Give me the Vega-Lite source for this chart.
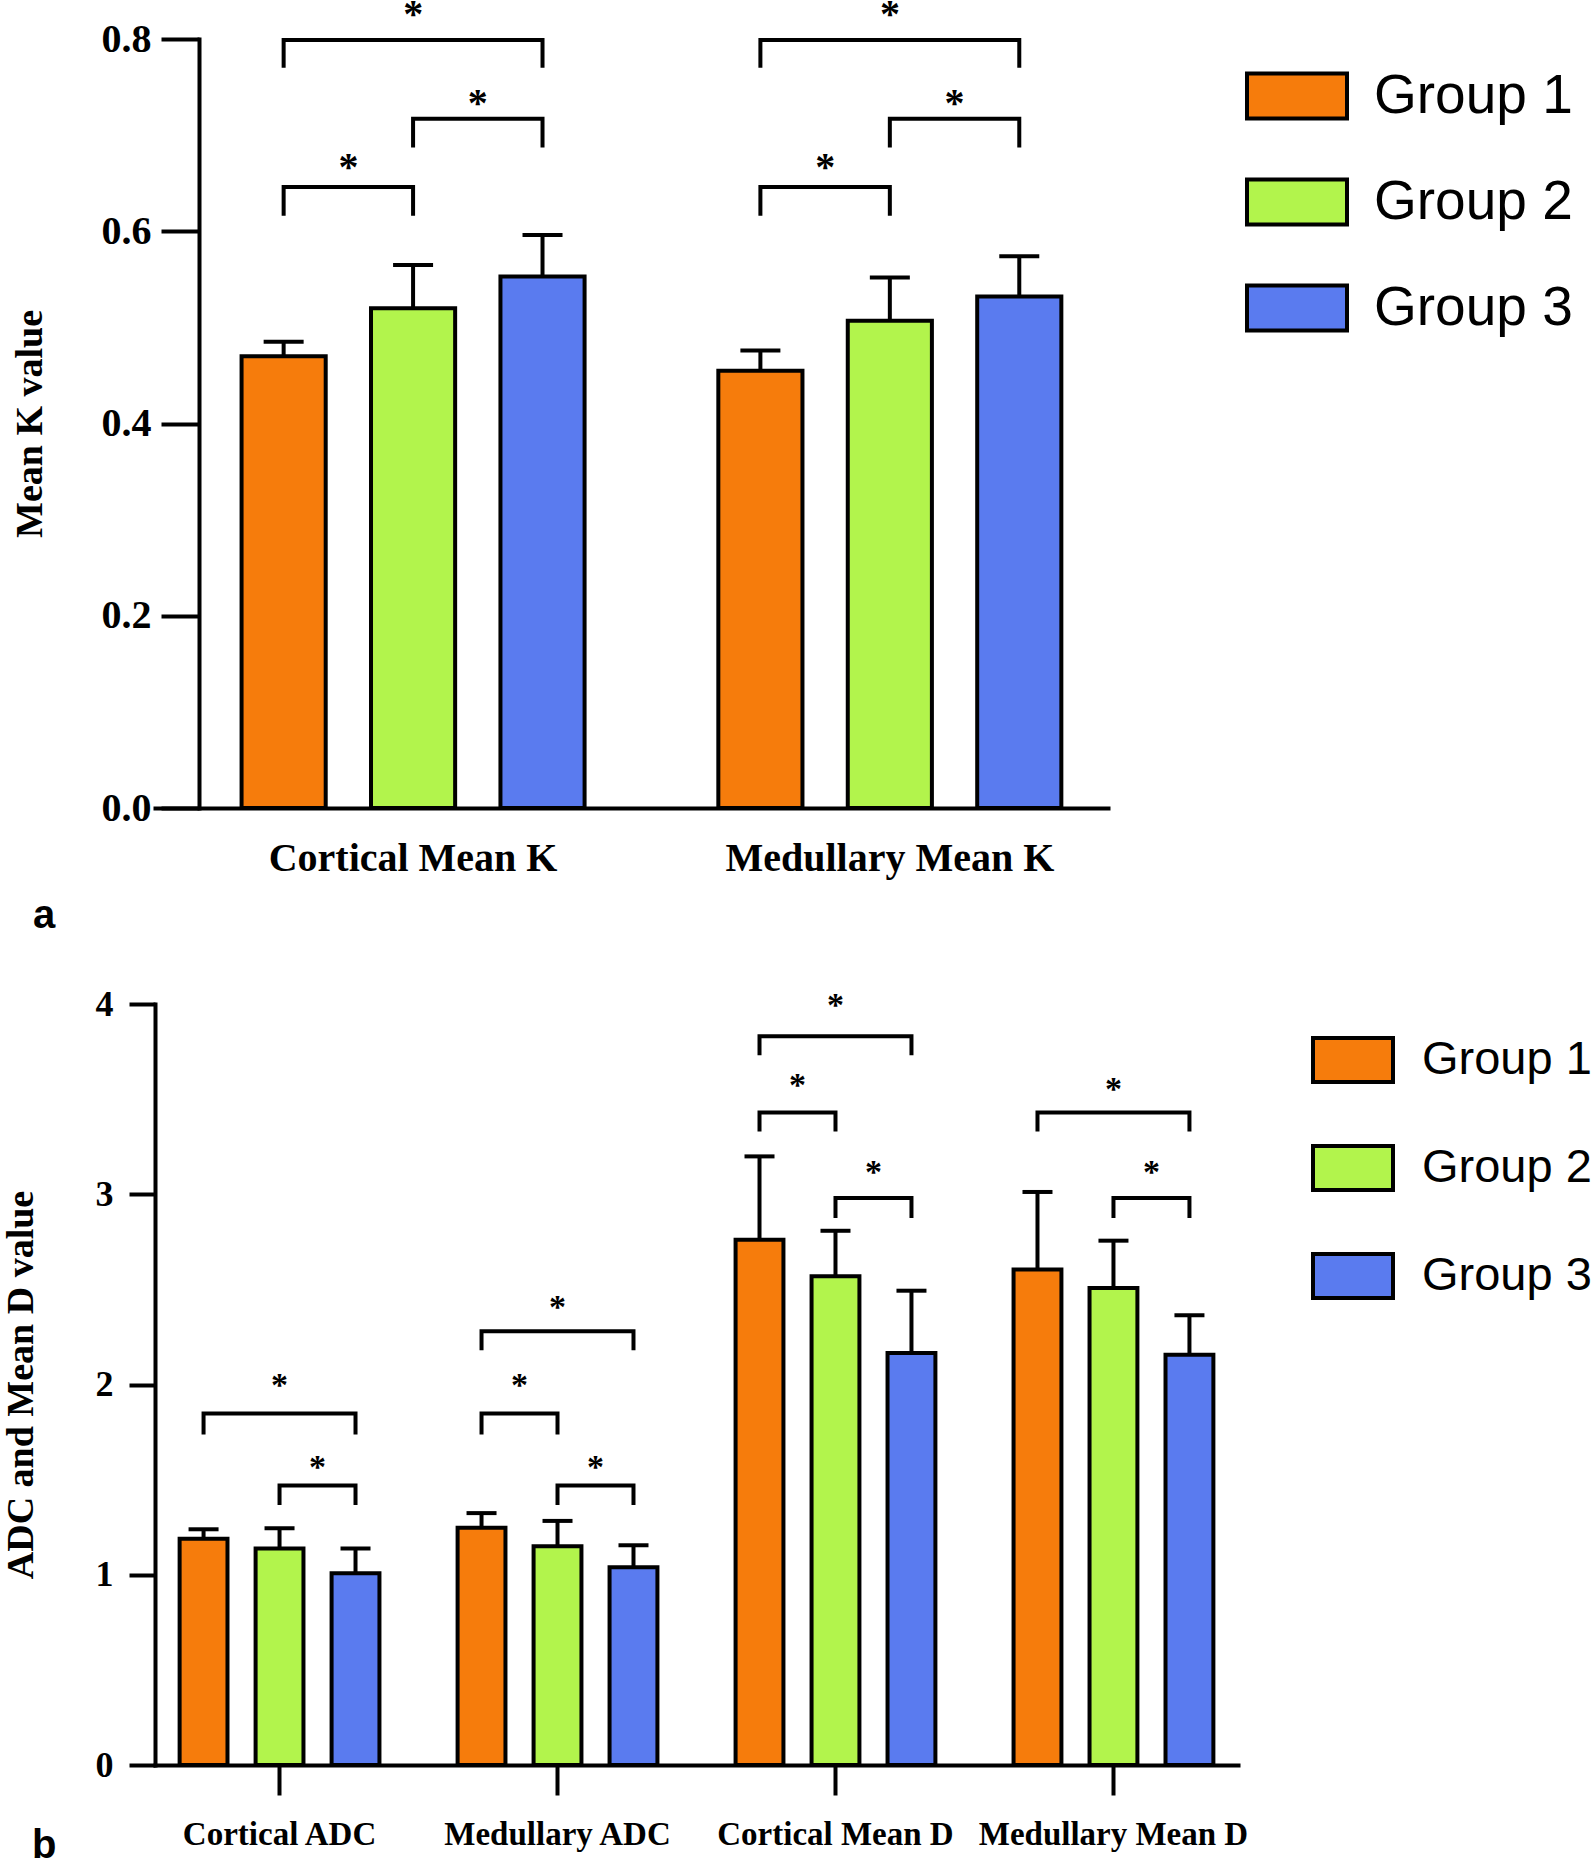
{
  "$schema": "https://vega.github.io/schema/vega-lite/v6.json",
  "background": "white",
  "padding": {"left": 2, "top": -5, "right": 0, "bottom": 0},
  "config": {
    "view": {"stroke": null},
    "font": "Liberation Serif",
    "axis": {"domainColor": "black", "tickColor": "black", "labelColor": "black", "titleColor": "black", "grid": false, "domainWidth": 4, "tickWidth": 4, "labelFont": "Liberation Serif", "labelFontWeight": "bold", "titleFont": "Liberation Serif", "titleFontWeight": "bold", "domainCap": "square", "labelLimit": 500}
  },
  "resolve": {"scale": {"color": "independent", "xOffset": "independent"}, "legend": {"color": "independent"}},
  "datasets": {
    "barsA": [
      {"cat": "Cortical Mean K", "group": "Group 1", "mean": 0.470, "upper": 0.485},
      {"cat": "Cortical Mean K", "group": "Group 2", "mean": 0.520, "upper": 0.565},
      {"cat": "Cortical Mean K", "group": "Group 3", "mean": 0.553, "upper": 0.596},
      {"cat": "Medullary Mean K", "group": "Group 1", "mean": 0.455, "upper": 0.476},
      {"cat": "Medullary Mean K", "group": "Group 2", "mean": 0.507, "upper": 0.552},
      {"cat": "Medullary Mean K", "group": "Group 3", "mean": 0.532, "upper": 0.574}
    ],
    "bracketsA": [
      {"id": "C13", "cat": "Cortical Mean K", "group": "Group 1", "y": 0.770, "k": 1},
      {"id": "C13", "cat": "Cortical Mean K", "group": "Group 1", "y": 0.799, "k": 2},
      {"id": "C13", "cat": "Cortical Mean K", "group": "Group 3", "y": 0.799, "k": 3},
      {"id": "C13", "cat": "Cortical Mean K", "group": "Group 3", "y": 0.770, "k": 4},
      {"id": "C12", "cat": "Cortical Mean K", "group": "Group 1", "y": 0.616, "k": 1},
      {"id": "C12", "cat": "Cortical Mean K", "group": "Group 1", "y": 0.646, "k": 2},
      {"id": "C12", "cat": "Cortical Mean K", "group": "Group 2", "y": 0.646, "k": 3},
      {"id": "C12", "cat": "Cortical Mean K", "group": "Group 2", "y": 0.616, "k": 4},
      {"id": "C23", "cat": "Cortical Mean K", "group": "Group 2", "y": 0.687, "k": 1},
      {"id": "C23", "cat": "Cortical Mean K", "group": "Group 2", "y": 0.717, "k": 2},
      {"id": "C23", "cat": "Cortical Mean K", "group": "Group 3", "y": 0.717, "k": 3},
      {"id": "C23", "cat": "Cortical Mean K", "group": "Group 3", "y": 0.687, "k": 4},
      {"id": "M13", "cat": "Medullary Mean K", "group": "Group 1", "y": 0.770, "k": 1},
      {"id": "M13", "cat": "Medullary Mean K", "group": "Group 1", "y": 0.799, "k": 2},
      {"id": "M13", "cat": "Medullary Mean K", "group": "Group 3", "y": 0.799, "k": 3},
      {"id": "M13", "cat": "Medullary Mean K", "group": "Group 3", "y": 0.770, "k": 4},
      {"id": "M12", "cat": "Medullary Mean K", "group": "Group 1", "y": 0.616, "k": 1},
      {"id": "M12", "cat": "Medullary Mean K", "group": "Group 1", "y": 0.646, "k": 2},
      {"id": "M12", "cat": "Medullary Mean K", "group": "Group 2", "y": 0.646, "k": 3},
      {"id": "M12", "cat": "Medullary Mean K", "group": "Group 2", "y": 0.616, "k": 4},
      {"id": "M23", "cat": "Medullary Mean K", "group": "Group 2", "y": 0.687, "k": 1},
      {"id": "M23", "cat": "Medullary Mean K", "group": "Group 2", "y": 0.717, "k": 2},
      {"id": "M23", "cat": "Medullary Mean K", "group": "Group 3", "y": 0.717, "k": 3},
      {"id": "M23", "cat": "Medullary Mean K", "group": "Group 3", "y": 0.687, "k": 4}
    ],
    "starsA": [
      {"cat": "Cortical Mean K", "from": "Group 1", "to": "Group 3", "y": 0.832},
      {"cat": "Cortical Mean K", "from": "Group 1", "to": "Group 2", "y": 0.673},
      {"cat": "Cortical Mean K", "from": "Group 2", "to": "Group 3", "y": 0.740},
      {"cat": "Medullary Mean K", "from": "Group 1", "to": "Group 3", "y": 0.832},
      {"cat": "Medullary Mean K", "from": "Group 1", "to": "Group 2", "y": 0.673},
      {"cat": "Medullary Mean K", "from": "Group 2", "to": "Group 3", "y": 0.740}
    ],
    "barsB": [
      {"cat": "Cortical ADC", "group": "Group 1", "mean": 1.189, "upper": 1.239},
      {"cat": "Cortical ADC", "group": "Group 2", "mean": 1.138, "upper": 1.244},
      {"cat": "Cortical ADC", "group": "Group 3", "mean": 1.008, "upper": 1.138},
      {"cat": "Medullary ADC", "group": "Group 1", "mean": 1.247, "upper": 1.324},
      {"cat": "Medullary ADC", "group": "Group 2", "mean": 1.150, "upper": 1.283},
      {"cat": "Medullary ADC", "group": "Group 3", "mean": 1.040, "upper": 1.155},
      {"cat": "Cortical Mean D", "group": "Group 1", "mean": 2.761, "upper": 3.199},
      {"cat": "Cortical Mean D", "group": "Group 2", "mean": 2.569, "upper": 2.808},
      {"cat": "Cortical Mean D", "group": "Group 3", "mean": 2.166, "upper": 2.493},
      {"cat": "Medullary Mean D", "group": "Group 1", "mean": 2.604, "upper": 3.012},
      {"cat": "Medullary Mean D", "group": "Group 2", "mean": 2.507, "upper": 2.756},
      {"cat": "Medullary Mean D", "group": "Group 3", "mean": 2.157, "upper": 2.364}
    ],
    "bracketsB": [
      {"id": "CA13", "cat": "Cortical ADC", "group": "Group 1", "y": 1.737, "k": 1},
      {"id": "CA13", "cat": "Cortical ADC", "group": "Group 1", "y": 1.848, "k": 2},
      {"id": "CA13", "cat": "Cortical ADC", "group": "Group 3", "y": 1.848, "k": 3},
      {"id": "CA13", "cat": "Cortical ADC", "group": "Group 3", "y": 1.737, "k": 4},
      {"id": "CA23", "cat": "Cortical ADC", "group": "Group 2", "y": 1.366, "k": 1},
      {"id": "CA23", "cat": "Cortical ADC", "group": "Group 2", "y": 1.469, "k": 2},
      {"id": "CA23", "cat": "Cortical ADC", "group": "Group 3", "y": 1.469, "k": 3},
      {"id": "CA23", "cat": "Cortical ADC", "group": "Group 3", "y": 1.366, "k": 4},
      {"id": "MA13", "cat": "Medullary ADC", "group": "Group 1", "y": 2.18, "k": 1},
      {"id": "MA13", "cat": "Medullary ADC", "group": "Group 1", "y": 2.28, "k": 2},
      {"id": "MA13", "cat": "Medullary ADC", "group": "Group 3", "y": 2.28, "k": 3},
      {"id": "MA13", "cat": "Medullary ADC", "group": "Group 3", "y": 2.18, "k": 4},
      {"id": "MA12", "cat": "Medullary ADC", "group": "Group 1", "y": 1.737, "k": 1},
      {"id": "MA12", "cat": "Medullary ADC", "group": "Group 1", "y": 1.848, "k": 2},
      {"id": "MA12", "cat": "Medullary ADC", "group": "Group 2", "y": 1.848, "k": 3},
      {"id": "MA12", "cat": "Medullary ADC", "group": "Group 2", "y": 1.737, "k": 4},
      {"id": "MA23", "cat": "Medullary ADC", "group": "Group 2", "y": 1.366, "k": 1},
      {"id": "MA23", "cat": "Medullary ADC", "group": "Group 2", "y": 1.469, "k": 2},
      {"id": "MA23", "cat": "Medullary ADC", "group": "Group 3", "y": 1.469, "k": 3},
      {"id": "MA23", "cat": "Medullary ADC", "group": "Group 3", "y": 1.366, "k": 4},
      {"id": "CD13", "cat": "Cortical Mean D", "group": "Group 1", "y": 3.73, "k": 1},
      {"id": "CD13", "cat": "Cortical Mean D", "group": "Group 1", "y": 3.83, "k": 2},
      {"id": "CD13", "cat": "Cortical Mean D", "group": "Group 3", "y": 3.83, "k": 3},
      {"id": "CD13", "cat": "Cortical Mean D", "group": "Group 3", "y": 3.73, "k": 4},
      {"id": "CD12", "cat": "Cortical Mean D", "group": "Group 1", "y": 3.33, "k": 1},
      {"id": "CD12", "cat": "Cortical Mean D", "group": "Group 1", "y": 3.43, "k": 2},
      {"id": "CD12", "cat": "Cortical Mean D", "group": "Group 2", "y": 3.43, "k": 3},
      {"id": "CD12", "cat": "Cortical Mean D", "group": "Group 2", "y": 3.33, "k": 4},
      {"id": "CD23", "cat": "Cortical Mean D", "group": "Group 2", "y": 2.875, "k": 1},
      {"id": "CD23", "cat": "Cortical Mean D", "group": "Group 2", "y": 2.98, "k": 2},
      {"id": "CD23", "cat": "Cortical Mean D", "group": "Group 3", "y": 2.98, "k": 3},
      {"id": "CD23", "cat": "Cortical Mean D", "group": "Group 3", "y": 2.875, "k": 4},
      {"id": "MD13", "cat": "Medullary Mean D", "group": "Group 1", "y": 3.33, "k": 1},
      {"id": "MD13", "cat": "Medullary Mean D", "group": "Group 1", "y": 3.43, "k": 2},
      {"id": "MD13", "cat": "Medullary Mean D", "group": "Group 3", "y": 3.43, "k": 3},
      {"id": "MD13", "cat": "Medullary Mean D", "group": "Group 3", "y": 3.33, "k": 4},
      {"id": "MD23", "cat": "Medullary Mean D", "group": "Group 2", "y": 2.875, "k": 1},
      {"id": "MD23", "cat": "Medullary Mean D", "group": "Group 2", "y": 2.98, "k": 2},
      {"id": "MD23", "cat": "Medullary Mean D", "group": "Group 3", "y": 2.98, "k": 3},
      {"id": "MD23", "cat": "Medullary Mean D", "group": "Group 3", "y": 2.875, "k": 4}
    ],
    "starsB": [
      {"cat": "Cortical ADC", "from": "Group 1", "to": "Group 3", "y": 2.02},
      {"cat": "Cortical ADC", "from": "Group 2", "to": "Group 3", "y": 1.587},
      {"cat": "Medullary ADC", "from": "Group 1", "to": "Group 3", "y": 2.43},
      {"cat": "Medullary ADC", "from": "Group 1", "to": "Group 2", "y": 2.02},
      {"cat": "Medullary ADC", "from": "Group 2", "to": "Group 3", "y": 1.587},
      {"cat": "Cortical Mean D", "from": "Group 1", "to": "Group 3", "y": 4.015},
      {"cat": "Cortical Mean D", "from": "Group 1", "to": "Group 2", "y": 3.595},
      {"cat": "Cortical Mean D", "from": "Group 2", "to": "Group 3", "y": 3.14},
      {"cat": "Medullary Mean D", "from": "Group 1", "to": "Group 3", "y": 3.576},
      {"cat": "Medullary Mean D", "from": "Group 2", "to": "Group 3", "y": 3.14}
    ]
  },
  "columns": 1,
  "align": "none",
  "spacing": 50,
  "concat": [
    {
      "width": 953,
      "height": 769,
      "title": {"text": "a", "orient": "bottom", "anchor": "start", "frame": "bounds", "font": "Liberation Sans", "fontSize": 40, "fontWeight": "bold", "color": "black", "dx": 22, "offset": 18},
      "layer": [
        {
          "data": {"name": "barsA"},
          "mark": {"type": "bar", "stroke": "black", "strokeWidth": 4, "opacity": 1},
          "encoding": {
            "x": {"field": "cat", "type": "nominal", "sort": ["Cortical Mean K", "Medullary Mean K"], "title": null,
                  "scale": {"type": "band", "paddingInner": 0.1855, "paddingOuter": 0.0922, "align": 0.727},
                  "axis": {"labelAngle": 0, "ticks": false, "labelPadding": 30, "labelFontSize": 40}},
            "xOffset": {"field": "group", "type": "nominal", "scale": {"type": "band", "paddingInner": 0.35, "paddingOuter": 0.175}},
            "y": {"field": "mean", "type": "quantitative", "title": "Mean K value", "scale": {"domain": [0, 0.8], "nice": false},
                  "axis": {"values": [0, 0.2, 0.4, 0.6, 0.8], "format": ".1f", "offset": -44, "tickSize": 38, "labelPadding": 10, "labelFontSize": 40, "titleFontSize": 38, "titlePadding": 52}},
            "color": {"field": "group", "type": "nominal",
                      "scale": {"domain": ["Group 1", "Group 2", "Group 3"], "range": ["#F67C0C", "#B2F44C", "#5A7BEF"]},
                      "legend": {"title": null, "orient": "right", "offset": 132, "padding": 5, "rowPadding": 23, "labelOffset": 25, "labelFont": "Liberation Sans", "labelFontSize": 55, "labelColor": "black", "labelLimit": 400, "symbolType": "M-1,-0.45H1V0.45H-1Z", "symbolSize": 10000, "symbolStrokeColor": "black", "symbolStrokeWidth": 4, "symbolOpacity": 1}}
          }
        },
        {
          "data": {"name": "barsA"},
          "mark": {"type": "rule", "color": "black", "strokeWidth": 4},
          "encoding": {
            "x": {"field": "cat", "type": "nominal", "sort": ["Cortical Mean K", "Medullary Mean K"], "title": null, "scale": {"type": "band"}},
            "xOffset": {"field": "group", "type": "nominal", "scale": {"type": "band"}},
            "y": {"field": "mean", "type": "quantitative", "title": "Mean K value"},
            "y2": {"field": "upper"}
          }
        },
        {
          "data": {"name": "barsA"},
          "mark": {"type": "tick", "orient": "horizontal", "color": "black", "size": 40, "thickness": 4, "opacity": 1},
          "encoding": {
            "x": {"field": "cat", "type": "nominal", "sort": ["Cortical Mean K", "Medullary Mean K"], "title": null, "scale": {"type": "band"}},
            "xOffset": {"field": "group", "type": "nominal", "scale": {"type": "band"}},
            "y": {"field": "upper", "type": "quantitative", "title": "Mean K value"}
          }
        },
        {
          "data": {"name": "bracketsA"},
          "mark": {"type": "line", "color": "black", "strokeWidth": 4, "strokeCap": "butt", "strokeJoin": "miter"},
          "encoding": {
            "x": {"field": "cat", "type": "nominal", "sort": ["Cortical Mean K", "Medullary Mean K"], "title": null, "scale": {"type": "band"}},
            "xOffset": {"field": "group", "type": "nominal", "scale": {"type": "band"}},
            "y": {"field": "y", "type": "quantitative", "title": "Mean K value"},
            "detail": {"field": "id"},
            "order": {"field": "k"}
          }
        },
        {
          "data": {"name": "starsA"},
          "transform": [{"filter": "datum.from == 'Group 1' && datum.to == 'Group 3'"}],
          "mark": {"type": "text", "text": "*", "font": "Liberation Serif", "fontWeight": "bold", "fontSize": 40, "baseline": "middle", "align": "center", "color": "black", "dx": 129.5, "dy": 7},
          "encoding": {
            "x": {"field": "cat", "type": "nominal", "sort": ["Cortical Mean K", "Medullary Mean K"], "title": null, "scale": {"type": "band"}},
            "xOffset": {"field": "from", "type": "nominal", "scale": {"type": "band"}},
            "y": {"field": "y", "type": "quantitative", "title": "Mean K value"}
          }
        },
        {
          "data": {"name": "starsA"},
          "transform": [{"filter": "!(datum.from == 'Group 1' && datum.to == 'Group 3')"}],
          "mark": {"type": "text", "text": "*", "font": "Liberation Serif", "fontWeight": "bold", "fontSize": 40, "baseline": "middle", "align": "center", "color": "black", "dx": 64.75, "dy": 7},
          "encoding": {
            "x": {"field": "cat", "type": "nominal", "sort": ["Cortical Mean K", "Medullary Mean K"], "title": null, "scale": {"type": "band"}},
            "xOffset": {"field": "from", "type": "nominal", "scale": {"type": "band"}},
            "y": {"field": "y", "type": "quantitative", "title": "Mean K value"}
          }
        }
      ]
    },
    {
      "width": 1083,
      "height": 761,
      "title": {"text": "b", "orient": "bottom", "anchor": "start", "frame": "bounds", "font": "Liberation Sans", "fontSize": 40, "fontWeight": "bold", "color": "black", "dx": 30, "offset": -25},
      "layer": [
        {
          "data": {"name": "barsB"},
          "mark": {"type": "bar", "stroke": "black", "strokeWidth": 4, "opacity": 1},
          "encoding": {
            "x": {"field": "cat", "type": "nominal", "sort": ["Cortical ADC", "Medullary ADC", "Cortical Mean D", "Medullary Mean D"], "title": null,
                  "scale": {"type": "band", "paddingInner": 0.18, "paddingOuter": 0.038},
                  "axis": {"labelAngle": 0, "ticks": true, "tickSize": 30, "labelPadding": 23, "labelFontSize": 33}},
            "xOffset": {"field": "group", "type": "nominal", "scale": {"type": "band", "paddingInner": 0.37, "paddingOuter": 0.185}},
            "y": {"field": "mean", "type": "quantitative", "title": "ADC and Mean D value", "scale": {"domain": [0, 4], "nice": false},
                  "axis": {"values": [0, 1, 2, 3, 4], "format": "d", "tickSize": 26, "labelPadding": 16, "labelFontSize": 36, "titleFontSize": 38, "titlePadding": 55}},
            "color": {"field": "group", "type": "nominal",
                      "scale": {"domain": ["Group 1", "Group 2", "Group 3"], "range": ["#F67C0C", "#B2F44C", "#5A7BEF"]},
                      "legend": {"title": null, "orient": "right", "offset": 59, "padding": 14, "rowPadding": 36, "labelOffset": 27, "labelFont": "Liberation Sans", "labelFontSize": 47, "labelColor": "black", "labelLimit": 400, "symbolType": "M-1,-0.55H1V0.55H-1Z", "symbolSize": 6400, "symbolStrokeColor": "black", "symbolStrokeWidth": 4, "symbolOpacity": 1}}
          }
        },
        {
          "data": {"name": "barsB"},
          "mark": {"type": "rule", "color": "black", "strokeWidth": 4},
          "encoding": {
            "x": {"field": "cat", "type": "nominal", "sort": ["Cortical ADC", "Medullary ADC", "Cortical Mean D", "Medullary Mean D"], "title": null, "scale": {"type": "band"}},
            "xOffset": {"field": "group", "type": "nominal", "scale": {"type": "band"}},
            "y": {"field": "mean", "type": "quantitative", "title": "ADC and Mean D value"},
            "y2": {"field": "upper"}
          }
        },
        {
          "data": {"name": "barsB"},
          "mark": {"type": "tick", "orient": "horizontal", "color": "black", "size": 30, "thickness": 4, "opacity": 1},
          "encoding": {
            "x": {"field": "cat", "type": "nominal", "sort": ["Cortical ADC", "Medullary ADC", "Cortical Mean D", "Medullary Mean D"], "title": null, "scale": {"type": "band"}},
            "xOffset": {"field": "group", "type": "nominal", "scale": {"type": "band"}},
            "y": {"field": "upper", "type": "quantitative", "title": "ADC and Mean D value"}
          }
        },
        {
          "data": {"name": "bracketsB"},
          "mark": {"type": "line", "color": "black", "strokeWidth": 4, "strokeCap": "butt", "strokeJoin": "miter"},
          "encoding": {
            "x": {"field": "cat", "type": "nominal", "sort": ["Cortical ADC", "Medullary ADC", "Cortical Mean D", "Medullary Mean D"], "title": null, "scale": {"type": "band"}},
            "xOffset": {"field": "group", "type": "nominal", "scale": {"type": "band"}},
            "y": {"field": "y", "type": "quantitative", "title": "ADC and Mean D value"},
            "detail": {"field": "id"},
            "order": {"field": "k"}
          }
        },
        {
          "data": {"name": "starsB"},
          "transform": [{"filter": "datum.from == 'Group 1' && datum.to == 'Group 3'"}],
          "mark": {"type": "text", "text": "*", "font": "Liberation Serif", "fontWeight": "bold", "fontSize": 34, "baseline": "middle", "align": "center", "color": "black", "dx": 76, "dy": 5},
          "encoding": {
            "x": {"field": "cat", "type": "nominal", "sort": ["Cortical ADC", "Medullary ADC", "Cortical Mean D", "Medullary Mean D"], "title": null, "scale": {"type": "band"}},
            "xOffset": {"field": "from", "type": "nominal", "scale": {"type": "band"}},
            "y": {"field": "y", "type": "quantitative", "title": "ADC and Mean D value"}
          }
        },
        {
          "data": {"name": "starsB"},
          "transform": [{"filter": "!(datum.from == 'Group 1' && datum.to == 'Group 3')"}],
          "mark": {"type": "text", "text": "*", "font": "Liberation Serif", "fontWeight": "bold", "fontSize": 34, "baseline": "middle", "align": "center", "color": "black", "dx": 38, "dy": 5},
          "encoding": {
            "x": {"field": "cat", "type": "nominal", "sort": ["Cortical ADC", "Medullary ADC", "Cortical Mean D", "Medullary Mean D"], "title": null, "scale": {"type": "band"}},
            "xOffset": {"field": "from", "type": "nominal", "scale": {"type": "band"}},
            "y": {"field": "y", "type": "quantitative", "title": "ADC and Mean D value"}
          }
        }
      ]
    }
  ]
}
